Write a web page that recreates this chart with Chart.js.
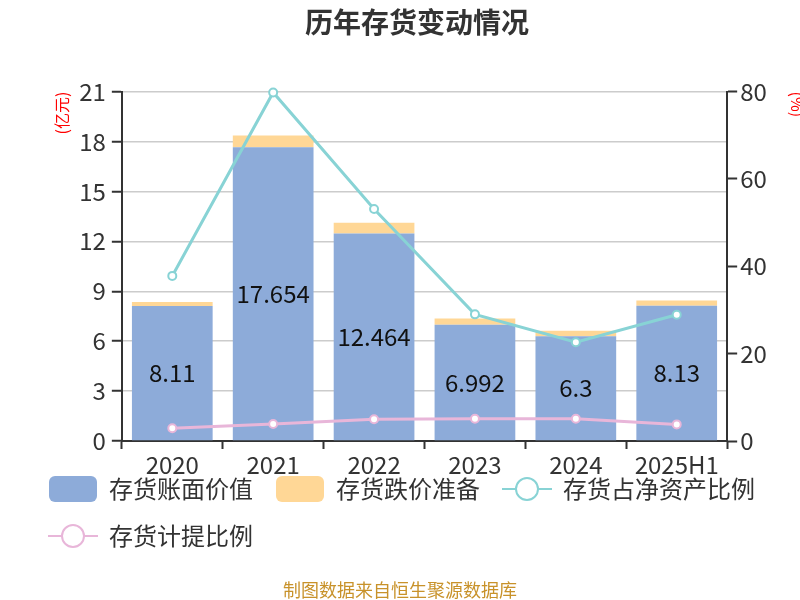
<!DOCTYPE html>
<html>
<head>
<meta charset="utf-8">
<script src="https://cdn.jsdelivr.net/npm/chart.js@4.4.0/dist/chart.umd.min.js"></script>
<style>
  body { margin: 0; background: #fff; }
</style>
</head>
<body>
<canvas id="grapInventario" width="800" height="600"></canvas>
<script>
var years = ['2020', '2021', '2022', '2023', '2024', '2025H1'];
var valorLibros = [8.11, 17.654, 12.464, 6.992, 6.3, 8.13];
var reserva = [0.24, 0.70, 0.66, 0.37, 0.33, 0.32];
var pctActivoNeto = [37.8, 79.8, 53.1, 29.0, 22.6, 28.9];
var pctReserva = [2.9, 3.9, 5.0, 5.1, 5.1, 3.8];
var etiquetas = ['8.11', '17.654', '12.464', '6.992', '6.3', '8.13'];

var FONT = '"Noto Sans CJK SC", "Noto Sans", sans-serif';
var AZUL = '#8dabd9';
var NARANJA = '#ffd796';
var CIAN = '#88d3d5';
var ROSA = '#e8b6d9';

// legend icons: rounded boxes for bars, line + circle for lines
function iconoCaja(color) {
  var c = document.createElement('canvas');
  c.width = 48; c.height = 26;
  var g = c.getContext('2d');
  g.fillStyle = color;
  g.beginPath();
  g.roundRect(0, 0, 48, 26, 6);
  g.fill();
  return c;
}
function iconoLinea(color) {
  var c = document.createElement('canvas');
  c.width = 50; c.height = 28;
  var g = c.getContext('2d');
  g.strokeStyle = color;
  g.lineWidth = 2;
  g.beginPath();
  g.moveTo(0, 14); g.lineTo(50, 14);
  g.stroke();
  g.fillStyle = '#fff';
  g.beginPath();
  g.arc(25, 14, 11, 0, Math.PI * 2);
  g.fill();
  g.stroke();
  return c;
}
var iconos = [iconoCaja(AZUL), iconoCaja(NARANJA), iconoLinea(CIAN), iconoLinea(ROSA)];

// value text inside the blue bars
var etiquetasPlugin = {
  id: 'etiquetasBarra',
  afterDatasetsDraw: function (chart) {
    var meta = chart.getDatasetMeta(0);
    var ctx = chart.ctx;
    ctx.save();
    ctx.font = '24px ' + FONT;
    ctx.fillStyle = '#111';
    ctx.textAlign = 'center';
    ctx.textBaseline = 'middle';
    meta.data.forEach(function (bar, i) {
      ctx.fillText(etiquetas[i], bar.x, (bar.y + bar.base) / 2);
    });
    ctx.restore();
  }
};

// legend sits tight under the x labels, like the original
var subirLeyenda = {
  id: 'subirLeyenda',
  afterLayout: function (chart) {
    if (chart.legend) {
      chart.legend.top -= 27;
      chart.legend.bottom -= 27;
    }
  }
};

var fuentePlugin = {
  id: 'fuente',
  afterDraw: function (chart) {
    var ctx = chart.ctx;
    ctx.save();
    ctx.font = '18px ' + FONT;
    ctx.fillStyle = '#c8922a';
    ctx.textAlign = 'center';
    ctx.textBaseline = 'middle';
    ctx.fillText('制图数据来自恒生聚源数据库', 400, 590);
    ctx.restore();
  }
};

var ctx = document.getElementById('grapInventario');
new Chart(ctx, {
  type: 'bar',
  data: {
    labels: years,
    datasets: [{
      label: '存货账面价值',
      data: valorLibros,
      backgroundColor: AZUL,
      stack: 's',
      order: 2
    }, {
      label: '存货跌价准备',
      data: reserva,
      backgroundColor: NARANJA,
      stack: 's',
      order: 2
    }, {
      type: 'line',
      label: '存货占净资产比例',
      data: pctActivoNeto,
      yAxisID: 'y1',
      borderColor: CIAN,
      borderWidth: 3,
      pointRadius: 4,
      pointBorderWidth: 2,
      pointBackgroundColor: '#fff',
      pointBorderColor: CIAN,
      fill: false,
      clip: false,
      order: 1
    }, {
      type: 'line',
      label: '存货计提比例',
      data: pctReserva,
      yAxisID: 'y1',
      borderColor: ROSA,
      borderWidth: 3,
      pointRadius: 4,
      pointBorderWidth: 2,
      pointBackgroundColor: '#fff',
      pointBorderColor: ROSA,
      fill: false,
      order: 1
    }]
  },
  options: {
    responsive: false,
    animation: false,
    layout: { padding: { left: 26, right: -8, top: 0, bottom: 15 } },
    datasets: { bar: { categoryPercentage: 0.8, barPercentage: 1 } },
    scales: {
      x: {
        stacked: true,
        grid: { offset: true, drawOnChartArea: false, tickLength: 8, tickColor: '#333', tickWidth: 2 },
        border: { color: '#333', width: 2 },
        ticks: { color: '#333', padding: 4, font: { family: FONT, size: 24, lineHeight: 1 } }
      },
      y: {
        stacked: true,
        position: 'left',
        min: 0,
        max: 21,
        ticks: { stepSize: 3, color: '#333', padding: 6, font: { family: FONT, size: 24 } },
        grid: { color: '#cccccc', lineWidth: 1.5, tickLength: 10, tickColor: '#333', tickWidth: 2 },
        border: { color: '#333', width: 2 },
        title: { display: true, text: '(亿元)', align: 'end', color: '#ff0000', padding: { top: 26, bottom: 2 }, font: { family: FONT, size: 16 } }
      },
      y1: {
        position: 'right',
        min: 0,
        max: 80,
        ticks: { stepSize: 20, color: '#333', padding: 3, font: { family: FONT, size: 24 } },
        grid: { drawOnChartArea: false, tickLength: 10, tickColor: '#333', tickWidth: 2 },
        border: { color: '#333', width: 2 },
        title: { display: true, text: '(%)', align: 'end', color: '#ff0000', padding: { top: 1, bottom: 18 }, font: { family: FONT, size: 16 } }
      }
    },
    plugins: {
      title: {
        display: true,
        text: '历年存货变动情况',
        color: '#333',
        font: { family: FONT, size: 28, weight: 'bold' },
        padding: { top: 6, bottom: 52 }
      },
      legend: {
        position: 'bottom',
        align: 'start',
        labels: {
          usePointStyle: true,
          pointStyleWidth: 48,
          boxHeight: 26,
          padding: 23,
          color: '#333',
          font: { family: FONT, size: 24 },
          sort: function (a, b) { return a.datasetIndex - b.datasetIndex; },
          generateLabels: function (chart) {
            var items = Chart.defaults.plugins.legend.labels.generateLabels(chart);
            items.forEach(function (it) { it.pointStyle = iconos[it.datasetIndex]; });
            return items;
          }
        }
      },
      tooltip: { enabled: false }
    }
  },
  plugins: [etiquetasPlugin, subirLeyenda, fuentePlugin]
});
</script>
</body>
</html>
